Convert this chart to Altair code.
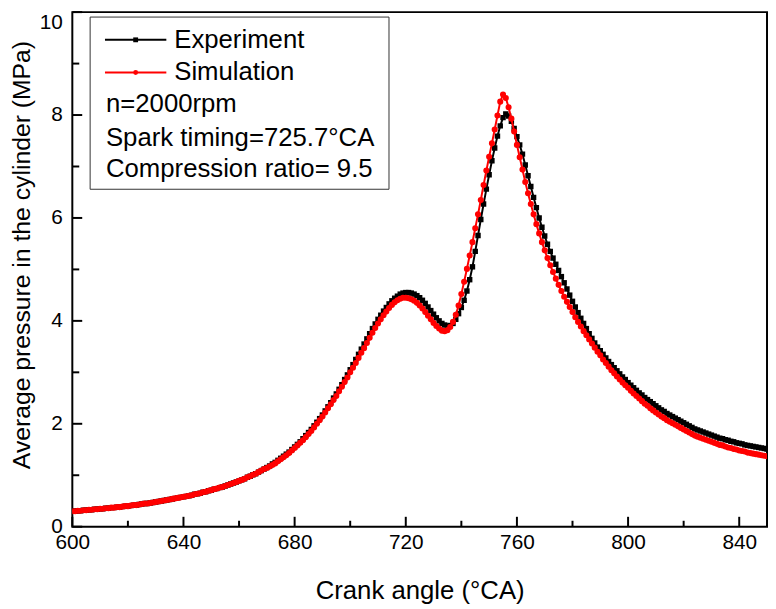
import pandas as pd
import altair as alt

# crank angle in degrees, one sample per degree
crank_angle = list(range(600, 851))

experiment = [
    0.30, 0.30, 0.31, 0.31, 0.32, 0.32, 0.33, 0.33, 0.34, 0.34,
    0.35, 0.35, 0.36, 0.36, 0.37, 0.37, 0.38, 0.38, 0.39, 0.40,
    0.40, 0.41, 0.42, 0.42, 0.43, 0.44, 0.45, 0.45, 0.46, 0.47,
    0.48, 0.49, 0.50, 0.51, 0.52, 0.53, 0.54, 0.55, 0.56, 0.57,
    0.58, 0.59, 0.60, 0.61, 0.63, 0.64, 0.65, 0.67, 0.68, 0.70,
    0.71, 0.73, 0.74, 0.76, 0.77, 0.79, 0.81, 0.83, 0.85, 0.87,
    0.89, 0.91, 0.93, 0.96, 0.98, 1.01, 1.03, 1.06, 1.09, 1.12,
    1.15, 1.18, 1.22, 1.25, 1.29, 1.33, 1.37, 1.41, 1.45, 1.50,
    1.55, 1.60, 1.65, 1.71, 1.77, 1.83, 1.89, 1.96, 2.03, 2.10,
    2.17, 2.25, 2.33, 2.41, 2.50, 2.58, 2.67, 2.76, 2.86, 2.95,
    3.05, 3.15, 3.25, 3.35, 3.45, 3.55, 3.65, 3.75, 3.85, 3.94,
    4.03, 4.11, 4.19, 4.26, 4.33, 4.39, 4.44, 4.48, 4.52, 4.54,
    4.55, 4.55, 4.54, 4.52, 4.49, 4.45, 4.40, 4.34, 4.27, 4.20,
    4.13, 4.06, 4.00, 3.95, 3.92, 3.90, 3.91, 3.95, 4.03, 4.14,
    4.26, 4.40, 4.58, 4.80, 5.05, 5.35, 5.66, 5.97, 6.27, 6.56,
    6.84, 7.11, 7.36, 7.59, 7.79, 7.95, 8.02, 7.98, 7.88, 7.74,
    7.58, 7.42, 7.24, 7.03, 6.82, 6.61, 6.40, 6.20, 6.00, 5.82,
    5.65, 5.49, 5.35, 5.22, 5.10, 4.98, 4.86, 4.74, 4.62, 4.50,
    4.38, 4.27, 4.16, 4.05, 3.95, 3.85, 3.75, 3.66, 3.57, 3.49,
    3.42, 3.35, 3.28, 3.21, 3.15, 3.09, 3.03, 2.97, 2.91, 2.86,
    2.80, 2.75, 2.70, 2.65, 2.60, 2.56, 2.51, 2.47, 2.43, 2.39,
    2.35, 2.31, 2.27, 2.24, 2.20, 2.17, 2.14, 2.11, 2.08, 2.05,
    2.02, 1.99, 1.96, 1.93, 1.90, 1.88, 1.86, 1.84, 1.82, 1.80,
    1.78, 1.76, 1.74, 1.72, 1.71, 1.69, 1.68, 1.66, 1.65, 1.63,
    1.62, 1.61, 1.59, 1.58, 1.57, 1.56, 1.55, 1.54, 1.53, 1.52,
    1.51,
]

simulation = [
    0.30, 0.30, 0.31, 0.31, 0.32, 0.32, 0.33, 0.33, 0.34, 0.34,
    0.35, 0.35, 0.36, 0.36, 0.37, 0.37, 0.38, 0.38, 0.39, 0.40,
    0.40, 0.41, 0.42, 0.42, 0.43, 0.44, 0.45, 0.45, 0.46, 0.47,
    0.48, 0.49, 0.50, 0.51, 0.52, 0.53, 0.54, 0.55, 0.56, 0.57,
    0.58, 0.59, 0.60, 0.61, 0.63, 0.64, 0.65, 0.67, 0.68, 0.70,
    0.71, 0.73, 0.74, 0.76, 0.77, 0.79, 0.81, 0.83, 0.85, 0.87,
    0.89, 0.91, 0.93, 0.96, 0.98, 1.01, 1.03, 1.06, 1.09, 1.12,
    1.14, 1.17, 1.20, 1.23, 1.27, 1.31, 1.35, 1.39, 1.43, 1.48,
    1.53, 1.58, 1.63, 1.68, 1.74, 1.80, 1.86, 1.93, 2.00, 2.07,
    2.14, 2.22, 2.30, 2.38, 2.46, 2.54, 2.63, 2.72, 2.81, 2.90,
    3.00, 3.09, 3.18, 3.28, 3.38, 3.47, 3.57, 3.67, 3.77, 3.86,
    3.95, 4.03, 4.11, 4.18, 4.25, 4.31, 4.36, 4.40, 4.43, 4.45,
    4.45, 4.44, 4.42, 4.39, 4.35, 4.30, 4.24, 4.17, 4.10, 4.03,
    3.96, 3.90, 3.85, 3.81, 3.80, 3.82, 3.88, 3.98, 4.12, 4.30,
    4.52, 4.76, 5.01, 5.27, 5.53, 5.80, 6.07, 6.35, 6.64, 6.92,
    7.19, 7.45, 7.72, 7.99, 8.26, 8.40, 8.33, 8.15, 7.93, 7.68,
    7.42, 7.18, 6.94, 6.70, 6.48, 6.27, 6.07, 5.88, 5.70, 5.53,
    5.37, 5.22, 5.08, 4.95, 4.82, 4.70, 4.58, 4.47, 4.37, 4.27,
    4.17, 4.07, 3.98, 3.89, 3.80, 3.72, 3.64, 3.56, 3.48, 3.40,
    3.33, 3.25, 3.18, 3.11, 3.04, 2.98, 2.92, 2.86, 2.80, 2.75,
    2.70, 2.64, 2.59, 2.54, 2.49, 2.44, 2.39, 2.35, 2.30, 2.26,
    2.22, 2.18, 2.14, 2.11, 2.07, 2.04, 2.01, 1.98, 1.95, 1.92,
    1.89, 1.86, 1.83, 1.80, 1.77, 1.75, 1.73, 1.71, 1.69, 1.67,
    1.65, 1.63, 1.61, 1.59, 1.58, 1.56, 1.54, 1.53, 1.51, 1.50,
    1.48, 1.47, 1.46, 1.44, 1.43, 1.42, 1.41, 1.40, 1.39, 1.38,
    1.37,
]

x_labels = [600, 640, 680, 720, 760, 800, 840]
x_minor = [620, 660, 700, 740, 780, 820]
y_labels = [0, 2, 4, 6, 8, 10]
y_minor = [1, 3, 5, 7, 9]

legend_series = ['Experiment', 'Simulation']
legend_notes = ['n=2000rpm', 'Spark timing=725.7°CA', 'Compression ratio= 9.5']

FONT = 'Liberation Sans'
W, H = 702, 520

df_exp = pd.DataFrame({'angle': crank_angle, 'pressure': experiment})
df_sim = pd.DataFrame({'angle': crank_angle, 'pressure': simulation})

x_enc = alt.X('angle:Q', scale=alt.Scale(domain=[600, 850], nice=False),
              axis=alt.Axis(values=x_labels, ticks=False, domain=False, grid=False,
                            labelFontSize=21, labelFont=FONT, labelColor='black',
                            labelPadding=5, labelFlush=False,
                            title='Crank angle (°CA)', titleFontSize=26, titleFont=FONT,
                            titleFontWeight='normal', titleColor='black',
                            titleY=65, titleBaseline='middle'))
y_enc = alt.Y('pressure:Q', scale=alt.Scale(domain=[0, 10], nice=False),
              axis=alt.Axis(values=y_labels, ticks=False, domain=False, grid=False,
                            labelFontSize=21, labelFont=FONT, labelColor='black',
                            labelPadding=10, labelFlush=False,
                            labelBaseline={'condition': {'test': 'datum.value == 10', 'value': 'top'},
                                           'value': 'middle'},
                            title='Average pressure in the cylinder (MPa)',
                            titleFontSize=25, titleFont=FONT, titleFontWeight='normal',
                            titleColor='black', titleX=-51, titleY=245,
                            titleBaseline='middle'))

exp_line = alt.Chart(df_exp).mark_line(color='black', strokeWidth=2, clip=True).encode(x=x_enc, y=y_enc)
exp_pts = alt.Chart(df_exp).mark_point(shape='square', size=30, filled=True, color='black',
                                       opacity=1, clip=True).encode(x='angle:Q', y='pressure:Q')
sim_line = alt.Chart(df_sim).mark_line(color='#ff0000', strokeWidth=2, clip=True).encode(x='angle:Q', y='pressure:Q')
sim_pts = alt.Chart(df_sim).mark_point(shape='circle', size=38, filled=True, color='#ff0000',
                                       opacity=1, clip=True).encode(x='angle:Q', y='pressure:Q')

# inward ticks
xmaj = alt.Chart(pd.DataFrame({'angle': x_labels})).mark_rule(color='black', strokeWidth=2).encode(
    x='angle:Q', y=alt.value(H), y2=alt.value(H - 10))
xmin = alt.Chart(pd.DataFrame({'angle': x_minor})).mark_rule(color='black', strokeWidth=2).encode(
    x='angle:Q', y=alt.value(H), y2=alt.value(H - 6))
ymaj = alt.Chart(pd.DataFrame({'pressure': y_labels})).mark_rule(color='black', strokeWidth=2).encode(
    y='pressure:Q', x=alt.value(0), x2=alt.value(10))
ymin = alt.Chart(pd.DataFrame({'pressure': y_minor})).mark_rule(color='black', strokeWidth=2).encode(
    y='pressure:Q', x=alt.value(0), x2=alt.value(7))

# legend box
one = pd.DataFrame({'a': [0]})
box = alt.Chart(one).mark_rect(fill='white', stroke='#333333', strokeWidth=1).encode(
    x=alt.value(18), x2=alt.value(320), y=alt.value(5), y2=alt.value(179))

legend_layers = [box]
row_y = [28, 61, 93, 127, 159]
for i, (name, col, shape) in enumerate(zip(legend_series, ['black', '#ff0000'], ['square', 'circle'])):
    legend_layers.append(alt.Chart(one).mark_rule(color=col, strokeWidth=2).encode(
        x=alt.value(33), x2=alt.value(95), y=alt.value(row_y[i])))
    legend_layers.append(alt.Chart(one).mark_point(shape=shape, size=24, filled=True, color=col, opacity=1).encode(
        x=alt.value(64), y=alt.value(row_y[i])))
    legend_layers.append(alt.Chart(one).mark_text(text=name, align='left', baseline='middle',
                                                  fontSize=26, font=FONT, color='black').encode(
        x=alt.value(103), y=alt.value(row_y[i])))
for j, note in enumerate(legend_notes):
    legend_layers.append(alt.Chart(one).mark_text(text=note, align='left', baseline='middle',
                                                  fontSize=26, font=FONT, color='black').encode(
        x=alt.value(34), y=alt.value(row_y[j + 2])))

chart = alt.layer(exp_line, exp_pts, sim_line, sim_pts, xmaj, xmin, ymaj, ymin, *legend_layers).properties(
    width=W, height=H,
    autosize=alt.AutoSizeParams(type='none'),
    padding={'left': 65, 'top': 1, 'right': 1, 'bottom': 80},
    background='white',
).configure_view(stroke='black', strokeWidth=2)

chart.save('out.html', embed_options={'renderer': 'svg', 'actions': False})
